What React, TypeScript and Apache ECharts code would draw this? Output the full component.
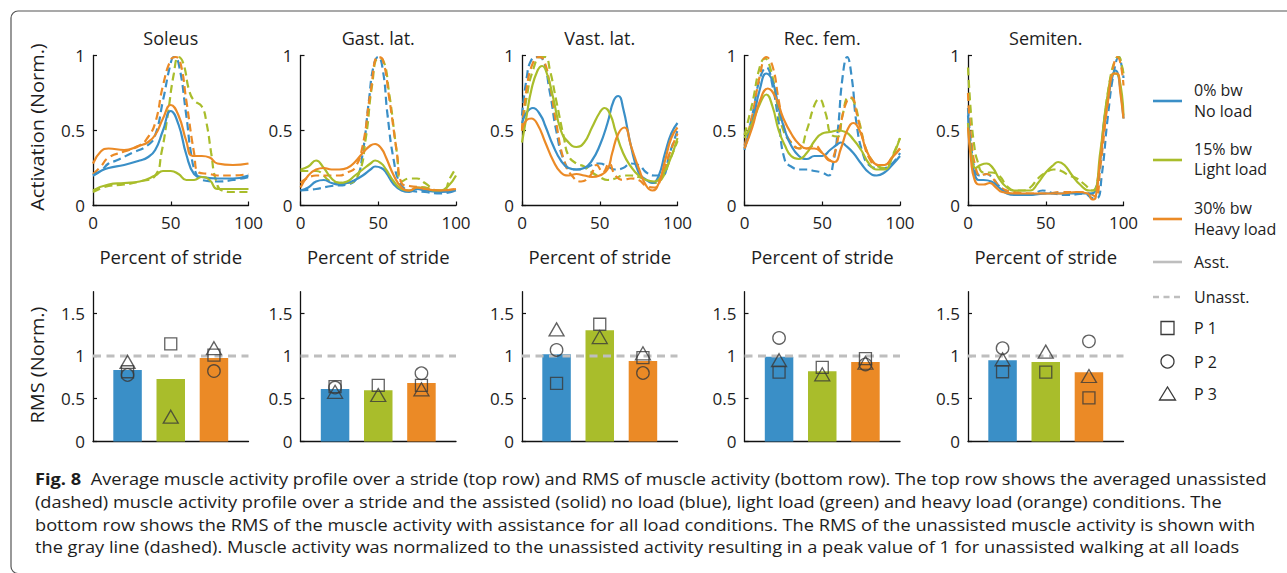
import React, { useEffect, useRef } from "react";
import * as echarts from "echarts";

// ---------- categories / labels ----------
const muscles = ["Soleus", "Gast. lat.", "Vast. lat.", "Rec. fem.", "Semiten."];
const conditionNames = ["0% bw", "15% bw", "30% bw"];
const conditionSubNames = ["No load", "Light load", "Heavy load"];
const participants = ["P 1", "P 2", "P 3"];
const strideTicks = [0, 50, 100];
const activationTicks = [0, 0.5, 1];
const rmsTicks = [0, 0.5, 1, 1.5];
const barPositions = [1, 2, 3];
const unassistedRms = 1;

// ---------- activation profiles (x = % stride, y = normalized activation) ----------
// Soleus
const soleusNoLoadAsst = [[0,0.2],[5,0.23],[10,0.25],[20,0.27],[30,0.3],[35,0.32],[40,0.37],[45,0.5],[50,0.63],[55,0.54],[60,0.34],[65,0.21],[70,0.19],[80,0.18],[90,0.18],[100,0.2]];
const soleusLightAsst = [[0,0.1],[10,0.14],[20,0.15],[30,0.16],[40,0.2],[45,0.23],[50,0.23],[55,0.21],[60,0.17],[65,0.17],[70,0.19],[75,0.17],[80,0.11],[90,0.11],[100,0.11]];
const soleusHeavyAsst = [[0,0.28],[5,0.36],[10,0.38],[20,0.37],[30,0.4],[35,0.42],[40,0.47],[45,0.58],[50,0.67],[55,0.6],[60,0.43],[64,0.33],[70,0.33],[75,0.32],[80,0.28],[90,0.27],[100,0.28]];
const soleusNoLoadUnasst = [[0,0.2],[5,0.23],[10,0.28],[15,0.3],[25,0.35],[35,0.4],[40,0.47],[45,0.7],[50,0.95],[52,0.99],[55,0.95],[60,0.6],[63,0.35],[66,0.22],[70,0.17],[80,0.16],[90,0.17],[100,0.19]];
const soleusLightUnasst = [[0,0.09],[10,0.13],[20,0.14],[30,0.16],[40,0.2],[44,0.35],[48,0.6],[52,0.88],[55,0.99],[58,0.95],[62,0.76],[65,0.7],[70,0.66],[73,0.55],[76,0.35],[79,0.17],[83,0.1],[90,0.09],[100,0.09]];
const soleusHeavyUnasst = [[0,0.21],[5,0.26],[10,0.32],[20,0.36],[30,0.4],[35,0.45],[40,0.55],[45,0.8],[50,0.97],[53,0.99],[56,0.96],[60,0.7],[65,0.35],[68,0.22],[75,0.21],[80,0.2],[90,0.2],[100,0.21]];
// Gastrocnemius lateralis
const gastNoLoadAsst = [[0,0.1],[5,0.12],[10,0.16],[15,0.17],[20,0.15],[25,0.14],[30,0.15],[35,0.17],[40,0.2],[45,0.24],[48,0.26],[52,0.25],[55,0.22],[60,0.14],[65,0.1],[70,0.09],[75,0.11],[80,0.1],[90,0.09],[100,0.1]];
const gastLightAsst = [[0,0.24],[5,0.26],[10,0.3],[15,0.25],[20,0.18],[25,0.15],[30,0.16],[35,0.2],[40,0.24],[45,0.28],[48,0.3],[52,0.28],[55,0.24],[60,0.16],[65,0.11],[70,0.1],[75,0.12],[80,0.12],[85,0.1],[90,0.1],[95,0.13],[100,0.2]];
const gastHeavyAsst = [[0,0.12],[5,0.2],[10,0.24],[15,0.25],[20,0.24],[25,0.24],[30,0.25],[35,0.29],[40,0.35],[45,0.4],[48,0.41],[52,0.38],[55,0.32],[60,0.2],[65,0.12],[70,0.1],[75,0.12],[80,0.11],[90,0.1],[100,0.11]];
const gastNoLoadUnasst = [[0,0.1],[10,0.11],[20,0.13],[30,0.14],[36,0.18],[40,0.35],[44,0.7],[47,0.93],[50,0.99],[53,0.9],[56,0.6],[60,0.3],[64,0.15],[70,0.1],[80,0.09],[90,0.08],[100,0.1]];
const gastLightUnasst = [[0,0.23],[10,0.23],[20,0.16],[30,0.15],[37,0.2],[42,0.45],[46,0.8],[50,0.98],[53,0.97],[57,0.75],[62,0.35],[65,0.16],[70,0.18],[75,0.18],[80,0.15],[88,0.1],[92,0.1],[96,0.18],[100,0.25]];
const gastHeavyUnasst = [[0,0.15],[10,0.2],[20,0.2],[25,0.2],[30,0.22],[35,0.25],[40,0.4],[45,0.75],[50,0.99],[53,0.97],[57,0.72],[62,0.35],[65,0.15],[70,0.13],[80,0.12],[90,0.1],[100,0.11]];
// Vastus lateralis
const vastNoLoadAsst = [[0,0.55],[3,0.62],[7,0.65],[12,0.6],[15,0.53],[20,0.4],[25,0.3],[30,0.25],[35,0.24],[40,0.25],[45,0.3],[50,0.4],[55,0.55],[59,0.7],[62,0.73],[65,0.65],[70,0.4],[75,0.22],[80,0.17],[84,0.15],[88,0.2],[92,0.35],[96,0.48],[100,0.55]];
const vastLightAsst = [[0,0.42],[3,0.6],[6,0.77],[10,0.9],[13,0.93],[16,0.88],[20,0.72],[25,0.5],[30,0.42],[35,0.39],[40,0.42],[45,0.52],[50,0.62],[53,0.65],[57,0.6],[60,0.5],[65,0.35],[70,0.26],[75,0.2],[80,0.17],[85,0.16],[90,0.2],[95,0.3],[100,0.45]];
const vastHeavyAsst = [[0,0.5],[3,0.57],[6,0.58],[10,0.54],[15,0.42],[20,0.3],[25,0.22],[30,0.2],[35,0.21],[40,0.2],[45,0.19],[50,0.2],[55,0.24],[58,0.35],[62,0.48],[66,0.52],[70,0.4],[75,0.25],[80,0.13],[84,0.1],[88,0.15],[92,0.3],[96,0.45],[100,0.52]];
const vastNoLoadUnasst = [[0,0.6],[3,0.85],[6,0.97],[10,0.99],[13,0.98],[18,0.75],[22,0.5],[27,0.3],[32,0.24],[38,0.24],[45,0.27],[50,0.28],[55,0.26],[60,0.24],[65,0.25],[70,0.28],[75,0.27],[80,0.22],[85,0.2],[90,0.2],[95,0.35],[100,0.5]];
const vastLightUnasst = [[0,0.5],[3,0.72],[7,0.9],[12,0.99],[15,0.99],[18,0.9],[22,0.7],[27,0.45],[30,0.33],[35,0.28],[40,0.26],[45,0.22],[50,0.19],[55,0.17],[60,0.18],[65,0.2],[70,0.2],[75,0.19],[80,0.17],[85,0.15],[90,0.18],[95,0.3],[100,0.43]];
const vastHeavyUnasst = [[0,0.5],[3,0.78],[7,0.95],[11,0.99],[14,0.97],[18,0.8],[22,0.55],[27,0.3],[32,0.2],[38,0.16],[44,0.2],[48,0.27],[52,0.22],[56,0.28],[60,0.2],[65,0.17],[70,0.18],[75,0.17],[80,0.13],[85,0.12],[90,0.2],[95,0.35],[100,0.48]];
// Rectus femoris
const recNoLoadAsst = [[0,0.38],[5,0.55],[10,0.78],[14,0.88],[18,0.83],[22,0.65],[26,0.5],[30,0.4],[35,0.33],[40,0.31],[45,0.33],[50,0.33],[55,0.37],[60,0.41],[62,0.42],[65,0.4],[70,0.35],[75,0.28],[80,0.22],[85,0.2],[90,0.22],[95,0.27],[100,0.33]];
const recLightAsst = [[0,0.45],[5,0.55],[10,0.68],[14,0.74],[18,0.66],[22,0.5],[26,0.4],[30,0.33],[35,0.31],[40,0.35],[45,0.43],[50,0.48],[55,0.49],[60,0.5],[65,0.49],[70,0.44],[75,0.37],[80,0.28],[85,0.24],[90,0.24],[95,0.32],[100,0.45]];
const recHeavyAsst = [[0,0.38],[5,0.52],[10,0.7],[15,0.78],[20,0.72],[25,0.58],[30,0.48],[35,0.41],[40,0.38],[45,0.38],[50,0.35],[55,0.3],[58,0.29],[62,0.38],[66,0.5],[70,0.55],[74,0.5],[78,0.38],[82,0.3],[86,0.27],[90,0.27],[95,0.32],[100,0.38]];
const recNoLoadUnasst = [[0,0.37],[5,0.6],[10,0.85],[14,0.92],[18,0.8],[22,0.55],[26,0.3],[30,0.26],[35,0.24],[40,0.24],[45,0.23],[50,0.22],[54,0.2],[57,0.28],[60,0.5],[63,0.85],[66,0.99],[69,0.85],[72,0.55],[76,0.35],[80,0.27],[85,0.25],[90,0.25],[95,0.28],[100,0.35]];
const recLightUnasst = [[0,0.47],[5,0.68],[10,0.93],[13,0.98],[17,0.9],[21,0.68],[25,0.5],[30,0.42],[35,0.38],[40,0.5],[45,0.67],[48,0.71],[52,0.62],[56,0.47],[60,0.46],[63,0.6],[67,0.72],[70,0.7],[74,0.55],[78,0.38],[82,0.3],[86,0.26],[90,0.25],[95,0.33],[100,0.45]];
const recHeavyUnasst = [[0,0.4],[5,0.6],[10,0.87],[14,0.99],[18,0.93],[22,0.7],[26,0.5],[30,0.42],[35,0.38],[40,0.38],[45,0.4],[50,0.35],[55,0.3],[58,0.35],[62,0.55],[66,0.7],[69,0.72],[72,0.62],[76,0.45],[80,0.32],[85,0.27],[90,0.27],[95,0.32],[100,0.38]];
// Semitendinosus
const semNoLoadAsst = [[0,0.6],[2,0.35],[4,0.22],[7,0.17],[10,0.17],[15,0.16],[20,0.12],[25,0.08],[30,0.07],[40,0.07],[50,0.08],[60,0.08],[70,0.08],[78,0.08],[82,0.1],[85,0.3],[88,0.6],[92,0.82],[95,0.9],[97,0.85],[100,0.58]];
const semLightAsst = [[0,0.55],[2,0.35],[5,0.25],[8,0.27],[12,0.28],[16,0.25],[20,0.18],[25,0.12],[30,0.1],[35,0.1],[40,0.1],[45,0.15],[50,0.22],[55,0.27],[58,0.29],[62,0.27],[67,0.2],[72,0.14],[78,0.1],[81,0.1],[85,0.35],[90,0.75],[94,0.88],[97,0.86],[100,0.6]];
const semHeavyAsst = [[0,0.52],[2,0.3],[4,0.18],[7,0.14],[10,0.14],[14,0.15],[18,0.12],[22,0.09],[30,0.08],[40,0.08],[50,0.08],[60,0.08],[70,0.09],[77,0.08],[80,0.04],[82,0.05],[85,0.3],[90,0.7],[94,0.88],[96,0.88],[98,0.75],[100,0.58]];
const semNoLoadUnasst = [[0,0.65],[2,0.4],[5,0.22],[8,0.2],[12,0.21],[16,0.18],[20,0.13],[25,0.09],[30,0.07],[40,0.07],[48,0.1],[55,0.08],[65,0.07],[75,0.08],[80,0.05],[83,0.05],[86,0.2],[90,0.6],[94,0.9],[97,0.99],[99,0.92],[100,0.85]];
const semLightUnasst = [[0,0.92],[2,0.6],[4,0.4],[6,0.3],[10,0.22],[15,0.22],[20,0.2],[25,0.13],[30,0.1],[35,0.1],[40,0.12],[45,0.18],[50,0.22],[55,0.24],[60,0.23],[65,0.2],[70,0.18],[75,0.14],[80,0.1],[83,0.15],[87,0.5],[91,0.82],[95,0.98],[97,0.99],[99,0.93],[100,0.88]];
const semHeavyUnasst = [[0,0.75],[2,0.45],[5,0.25],[8,0.2],[12,0.21],[16,0.18],[20,0.13],[25,0.1],[30,0.09],[40,0.08],[50,0.08],[60,0.09],[70,0.09],[78,0.08],[82,0.06],[85,0.25],[90,0.7],[94,0.95],[96,0.99],[98,0.95],[100,0.8]];

// ---------- RMS values (per muscle: Soleus, Gast, Vast, Rec, Semiten) ----------
const rmsNoLoad = [0.835, 0.613, 1.02, 0.99, 0.95];
const rmsLightLoad = [0.73, 0.6, 1.3, 0.82, 0.93];
const rmsHeavyLoad = [0.975, 0.683, 0.94, 0.93, 0.81];
// participants, per muscle: [no load, light load, heavy load]
const p1Rms = [[0.815, 1.14, 1.01], [0.64, 0.656, 0.656], [0.68, 1.37, 0.98], [0.81, 0.867, 0.967], [0.815, 0.81, 0.51]];
const p2Rms = [[0.777, null, 0.823], [0.63, null, 0.797], [1.07, null, 0.8], [1.21, null, 0.9], [1.09, null, 1.17]];
const p3Rms = [[0.93, 0.29, 1.09], [0.58, 0.543, 0.61], [1.31, 1.22, 1.03], [0.95, 0.785, 0.92], [0.96, 1.05, 0.765]];

const captionLines = [
  "Average muscle activity profile over a stride (top row) and RMS of muscle activity (bottom row). The top row shows the averaged unassisted",
  "(dashed) muscle activity profile over a stride and the assisted (solid) no load (blue), light load (green) and heavy load (orange) conditions. The",
  "bottom row shows the RMS of the muscle activity with assistance for all load conditions. The RMS of the unassisted muscle activity is shown with",
  "the gray line (dashed). Muscle activity was normalized to the unassisted activity resulting in a peak value of 1 for unassisted walking at all loads",
];

// ---------- styling / layout ----------
const FONT = "'Open Sans', 'Noto Sans', sans-serif";
const TEXT = "#1d1d1d";
const COLORS = ["#3A8FC7", "#A9BD2B", "#EB8A26"];
const GRAY = "#BEBEBE";
const MARKER = "#3a3a3a";
const panelLefts = [93, 300.5, 522, 744.5, 968];
const panelWidth = 155.5;
const topGridTop = 55.5;
const topGridHeight = 150;
const botGridTop = 291.7;
const botGridHeight = 149.8;

const asstCurves = [
  [soleusNoLoadAsst, soleusLightAsst, soleusHeavyAsst],
  [gastNoLoadAsst, gastLightAsst, gastHeavyAsst],
  [vastNoLoadAsst, vastLightAsst, vastHeavyAsst],
  [recNoLoadAsst, recLightAsst, recHeavyAsst],
  [semNoLoadAsst, semLightAsst, semHeavyAsst],
];
const unasstCurves = [
  [soleusNoLoadUnasst, soleusLightUnasst, soleusHeavyUnasst],
  [gastNoLoadUnasst, gastLightUnasst, gastHeavyUnasst],
  [vastNoLoadUnasst, vastLightUnasst, vastHeavyUnasst],
  [recNoLoadUnasst, recLightUnasst, recHeavyUnasst],
  [semNoLoadUnasst, semLightUnasst, semHeavyUnasst],
];
const rmsByCondition = [rmsNoLoad, rmsLightLoad, rmsHeavyLoad];
const participantData = [p1Rms, p2Rms, p3Rms];
const participantSymbols: any[] = ["rect", "circle", "triangle"];
const participantSizes: any[] = [12, 12.5, [15, 13]];

function buildOption() {
  const grid: any[] = [];
  const xAxis: any[] = [];
  const yAxis: any[] = [];
  const series: any[] = [];
  const graphic: any[] = [];

  const axisLine = { show: true, lineStyle: { color: "#111", width: 1.3 } };
  const axisTick = { show: true, inside: true, length: 4, lineStyle: { color: "#111", width: 1.2 } };
  const labelStyle = { color: TEXT, fontSize: 17, fontFamily: FONT };

  muscles.forEach((name, m) => {
    // ----- top row -----
    const gi = grid.length;
    grid.push({ left: panelLefts[m], top: topGridTop, width: panelWidth, height: topGridHeight });
    xAxis.push({
      gridIndex: gi, type: "value", min: strideTicks[0], max: strideTicks[strideTicks.length - 1], interval: 50,
      axisLine, axisTick, splitLine: { show: false },
      axisLabel: { ...labelStyle, margin: 8 },
      name: "Percent of stride", nameLocation: "middle", nameGap: 41,
      nameTextStyle: { color: TEXT, fontSize: 18.5, fontFamily: FONT },
    });
    yAxis.push({
      gridIndex: gi, type: "value", min: activationTicks[0], max: activationTicks[activationTicks.length - 1], interval: 0.5,
      axisLine, axisTick, splitLine: { show: false },
      axisLabel: { ...labelStyle, margin: 8 },
    });
    [0, 1, 2].forEach((c) => {
      series.push({
        type: "line", xAxisIndex: gi, yAxisIndex: gi, data: unasstCurves[m][c], smooth: 0.5,
        showSymbol: false, symbol: "none", clip: false,
        lineStyle: { color: COLORS[c], width: 2.2, type: [8, 4.5], cap: "butt" }, z: 2,
      });
    });
    [0, 1, 2].forEach((c) => {
      series.push({
        type: "line", xAxisIndex: gi, yAxisIndex: gi, data: asstCurves[m][c], smooth: 0.5,
        showSymbol: false, symbol: "none", clip: false,
        lineStyle: { color: COLORS[c], width: 2.2 }, z: 3,
      });
    });
    graphic.push({
      type: "text", x: panelLefts[m] + panelWidth / 2, y: 38,
      style: { text: name, fontSize: 18, fontFamily: FONT, fill: TEXT, textAlign: "center", textVerticalAlign: "middle" },
    });

    // ----- bottom row -----
    const bi = grid.length;
    grid.push({ left: panelLefts[m], top: botGridTop, width: panelWidth, height: botGridHeight });
    xAxis.push({
      gridIndex: bi, type: "value", min: 0.2, max: 3.8,
      axisLine, axisTick: { show: false }, axisLabel: { show: false }, splitLine: { show: false },
    });
    yAxis.push({
      gridIndex: bi, type: "value", min: 0, max: 1.75,
      axisLine, splitLine: { show: false },
      axisTick: { ...axisTick, customValues: rmsTicks },
      axisLabel: { ...labelStyle, margin: 8, customValues: rmsTicks,
        formatter: (v: number) => (rmsTicks.some((t) => Math.abs(t - v) < 1e-6) ? String(v) : "") },
    });
    series.push({
      type: "bar", xAxisIndex: bi, yAxisIndex: bi, barWidth: 28.5, z: 2,
      data: barPositions.map((p, c) => ({ value: [p, rmsByCondition[c][m]], itemStyle: { color: COLORS[c] } })),
    });
    series.push({
      type: "line", xAxisIndex: bi, yAxisIndex: bi, symbol: "none", z: 3,
      data: [[0.2, unassistedRms], [3.8, unassistedRms]],
      lineStyle: { color: GRAY, width: 3, type: [8, 5.5] },
    });
    participantData.forEach((pd, p) => {
      series.push({
        type: "scatter", xAxisIndex: bi, yAxisIndex: bi, z: 4,
        symbol: participantSymbols[p], symbolSize: participantSizes[p],
        data: barPositions.map((pos, c) => (pd[m][c] == null ? null : [pos, pd[m][c]])).filter((d) => d != null),
        itemStyle: { color: "rgba(0,0,0,0)", borderColor: MARKER, borderWidth: 1.3 },
      });
    });
  });

  // y axis names
  graphic.push({
    type: "text", x: 37, y: 127, rotation: Math.PI / 2, scaleX: 1.05,
    style: { text: "Activation (Norm.)", fontSize: 19, fontFamily: FONT, fill: TEXT, textAlign: "center", textVerticalAlign: "middle" },
  });
  graphic.push({
    type: "text", x: 37, y: 365, rotation: Math.PI / 2, scaleX: 1.05,
    style: { text: "RMS (Norm.)", fontSize: 19, fontFamily: FONT, fill: TEXT, textAlign: "center", textVerticalAlign: "middle" },
  });

  // legend
  const lx1 = 1153, lx2 = 1182, tx = 1194;
  const legendRows = [
    { y: 101, t1: 90, t2: 111 },
    { y: 160, t1: 149, t2: 169 },
    { y: 219, t1: 208, t2: 229 },
  ];
  const legText = (text: string, y: number) => ({
    type: "text", x: tx, y,
    style: { text, fontSize: 16, fontFamily: FONT, fill: TEXT, textAlign: "left", textVerticalAlign: "middle" },
  });
  legendRows.forEach((r, c) => {
    graphic.push({ type: "line", shape: { x1: lx1, y1: r.y, x2: lx2, y2: r.y }, style: { stroke: COLORS[c], lineWidth: 2.6 } });
    graphic.push(legText(conditionNames[c], r.t1));
    graphic.push(legText(conditionSubNames[c], r.t2));
  });
  graphic.push({ type: "line", shape: { x1: lx1, y1: 262, x2: lx2, y2: 262 }, style: { stroke: GRAY, lineWidth: 2.6 } });
  graphic.push(legText("Asst.", 262));
  graphic.push({ type: "line", shape: { x1: lx1, y1: 297, x2: lx2, y2: 297 }, style: { stroke: GRAY, lineWidth: 2.6, lineDash: [6, 4.5] } });
  graphic.push(legText("Unasst.", 297));
  graphic.push({ type: "rect", shape: { x: 1161, y: 321.5, width: 13, height: 13 }, style: { fill: "none", stroke: MARKER, lineWidth: 1.3 } });
  graphic.push(legText(participants[0], 328));
  graphic.push({ type: "circle", shape: { cx: 1167.5, cy: 361.5, r: 6.5 }, style: { fill: "none", stroke: MARKER, lineWidth: 1.3 } });
  graphic.push(legText(participants[1], 361.5));
  graphic.push({ type: "polygon", shape: { points: [[1159.5, 400], [1175.5, 400], [1167.5, 387]] }, style: { fill: "none", stroke: MARKER, lineWidth: 1.3 } });
  graphic.push(legText(participants[2], 393.5));

  // caption
  const capY = [479, 502, 525, 547];
  captionLines.forEach((line, i) => {
    graphic.push({
      type: "text", x: 35, y: capY[i], scaleX: 1.175,
      style: {
        text: i === 0 ? "{b|Fig. 8}  " + line : line,
        rich: { b: { fontWeight: "bold", fontSize: 15.5, fontFamily: FONT, fill: TEXT } },
        fontSize: 15.5, fontFamily: FONT, fill: TEXT, textAlign: "left", textVerticalAlign: "middle",
      },
    });
  });

  // frame
  graphic.push({
    type: "rect", shape: { x: 11, y: 11, width: 1290, height: 562.5, r: 7 },
    style: { fill: "none", stroke: "#555", lineWidth: 1.2 }, z: -1,
  });

  return { animation: false, backgroundColor: "#fff", grid, xAxis, yAxis, series, graphic };
}

export default function App() {
  const ref = useRef<HTMLDivElement>(null);
  useEffect(() => {
    if (!ref.current) return;
    const chart = echarts.init(ref.current, null, { renderer: "svg" });
    chart.setOption(buildOption() as any);
    return () => chart.dispose();
  }, []);
  return (
    <div
      ref={ref}
      style={{ position: "absolute", left: 0, top: 0, width: 1287, height: 573, background: "#fff" }}
    />
  );
}
